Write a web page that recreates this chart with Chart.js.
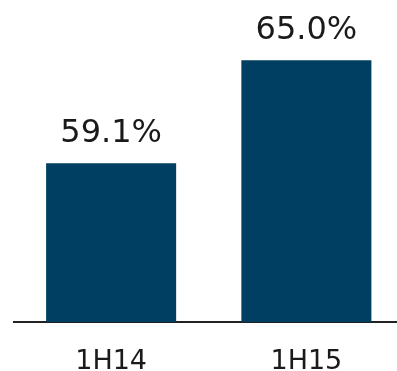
<!DOCTYPE html>
<html>
<head>
<meta charset="utf-8">
<script src="https://cdn.jsdelivr.net/npm/chart.js@4/dist/chart.umd.min.js"></script>
<style>
  html, body { margin: 0; padding: 0; overflow: hidden; background: #fff; }
  #wrap { width: 404px; height: 371px; }
</style>
</head>
<body>
<div id="wrap"><canvas id="chart"></canvas></div>
<script>
// 期間と比率
const PERIODS = ["1H14", "1H15"];
const RATIOS = [59.1, 65.0];
const VALUE_LABELS = ["59.1%", "65.0%"];

const BAR_COLOR = "#003e62";
const TEXT_COLOR = "#1a1a1a";

/** 棒の上に値を書く */
const valueLabelPlugin = {
  id: "valueLabel",
  afterDatasetsDraw(chart) {
    const ctx = chart.ctx;
    const meta = chart.getDatasetMeta(0);
    ctx.save();
    ctx.font = "32px 'DejaVu Sans'";
    ctx.fillStyle = TEXT_COLOR;
    ctx.textAlign = "center";
    ctx.textBaseline = "alphabetic";
    meta.data.forEach((bar, i) => {
      ctx.fillText(VALUE_LABELS[i], bar.x, bar.y - 21);
    });
    ctx.restore();
  },
};

new Chart(document.getElementById("chart"), {
  type: "bar",
  data: {
    labels: PERIODS,
    datasets: [{
      data: RATIOS,
      backgroundColor: BAR_COLOR,
      barPercentage: 0.666,
      categoryPercentage: 1,
    }],
  },
  options: {
    responsive: true,
    maintainAspectRatio: false,
    animation: false,
    layout: {
      padding: { left: 13.5, right: 0, top: 8, bottom: 0 },
    },
    scales: {
      x: {
        // 軸の高さは固定
        afterFit: (axis) => { axis.height = 49; },
        grid: { display: false, drawTicks: false },
        border: { display: true, color: "#222", width: 2 },
        ticks: {
          color: TEXT_COLOR,
          padding: 24,
          font: { family: "'DejaVu Sans'", size: 27 },
        },
      },
      y: {
        display: false,
        min: 50,
        max: 68,
      },
    },
    plugins: {
      legend: { display: false },
      tooltip: { enabled: false },
    },
  },
  plugins: [valueLabelPlugin],
});
</script>
</body>
</html>
